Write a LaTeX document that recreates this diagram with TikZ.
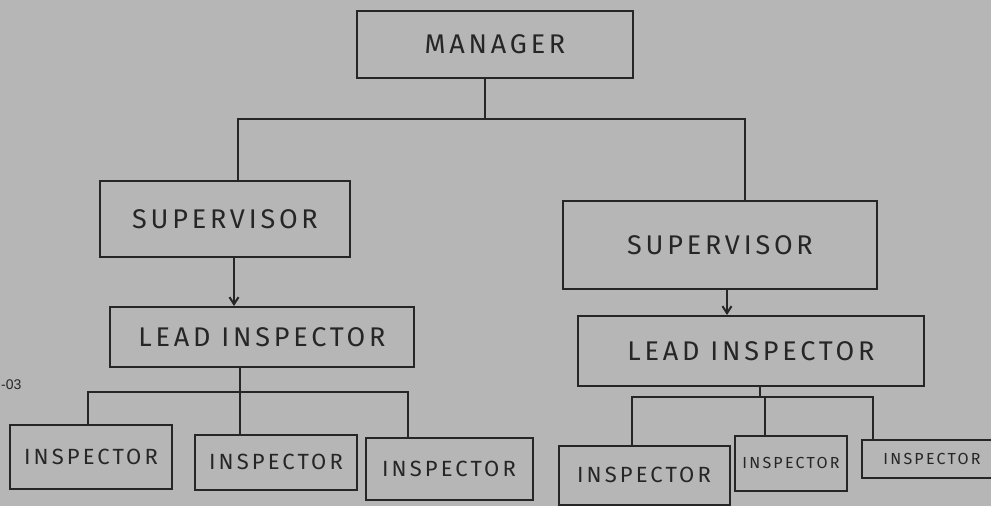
\documentclass[tikz,border=0pt]{standalone}
\usepackage{fontspec}
\usetikzlibrary{arrows.meta}
\newfontfamily\hand[LetterSpace=14]{Fira Sans}
\newfontfamily\margin{Liberation Sans}
\definecolor{paper}{RGB}{182,182,182}
\definecolor{ink}{RGB}{38,38,38}

\begin{document}
\begin{tikzpicture}[x=1pt,y=-1pt,
  box/.style={draw=ink,line width=2pt,inner sep=0pt,text=ink,
    font=\hand\fontsize{27}{30}\selectfont},
  wire/.style={draw=ink,line width=2pt},
  down/.style={wire,-{Straight Barb[length=7pt,width=9pt]}}]
 \fill[paper] (0,0) rectangle (991,506);
 \clip (0,0) rectangle (991,506);
 % boxes
 \node[box,minimum width=276,minimum height=67] (mgr) at (495,44) {MANAGER};
 \node[box,minimum width=250,minimum height=76] (supL) at (225,219) {SUPERVISOR};
 \node[box,minimum width=314,minimum height=88] (supR) at (720,245) {SUPERVISOR};
 \node[box,minimum width=304,minimum height=60] (leadL) at (262,337) {LEAD INSPECTOR};
 \node[box,minimum width=346,minimum height=70] (leadR) at (751,351) {LEAD INSPECTOR};
 \node[box,minimum width=162,minimum height=64,font=\hand\fontsize{22}{24}\selectfont] (insL1) at (91,457) {INSPECTOR};
 \node[box,minimum width=162,minimum height=55,font=\hand\fontsize{22}{24}\selectfont] (insL2) at (276,462) {INSPECTOR};
 \node[box,minimum width=167,minimum height=62,font=\hand\fontsize{22}{24}\selectfont] (insL3) at (449,469) {INSPECTOR};
 \node[box,minimum width=171,minimum height=59,font=\hand\fontsize{22}{24}\selectfont] (insR1) at (644,475) {INSPECTOR};
 \node[box,minimum width=112,minimum height=55,font=\hand\fontsize{16}{18}\selectfont] (insR2) at (791,463) {INSPECTOR};
 \node[box,minimum width=140,minimum height=38,font=\hand\fontsize{16}{18}\selectfont] (insR3) at (932,459) {INSPECTOR};
 \node[text=ink,font=\margin\fontsize{14}{16}\selectfont,anchor=west,inner sep=0pt] (pg) at (1,385) {-03};
 % manager to supervisors
 \draw[wire] ([xshift=-10pt]mgr.south) -- ++(0,40) coordinate (mj);
 \draw[wire] (mj) -| ([xshift=13pt]supL.north);
 \draw[wire] (mj) -| ([xshift=25pt]supR.north);
 % supervisors to leads
 \draw[down] ([xshift=9pt]supL.south) -- ([xshift=-28pt]leadL.north);
 \draw[down] ([xshift=7pt]supR.south) -- ([xshift=-24pt]leadR.north);
 % left lead to inspectors
 \draw[wire] ([xshift=-22pt]leadL.south) -- ++(0,24) coordinate (lj);
 \draw[wire] (lj) -| ([xshift=-3pt]insL1.north);
 \draw[wire] (lj) -- ([xshift=-36pt]insL2.north);
 \draw[wire] (lj) -| ([xshift=-41pt]insL3.north);
 % right lead to inspectors
 \draw[wire] ([xshift=9pt]leadR.south) -- ++(0,10) coordinate (rj);
 \draw[wire] (rj) -| ([xshift=-12pt]insR1.north);
 \draw[wire] (rj) -| ([xshift=-26pt]insR2.north);
 \draw[wire] (rj) -| ([xshift=-59pt]insR3.north);
\end{tikzpicture}
\end{document}
